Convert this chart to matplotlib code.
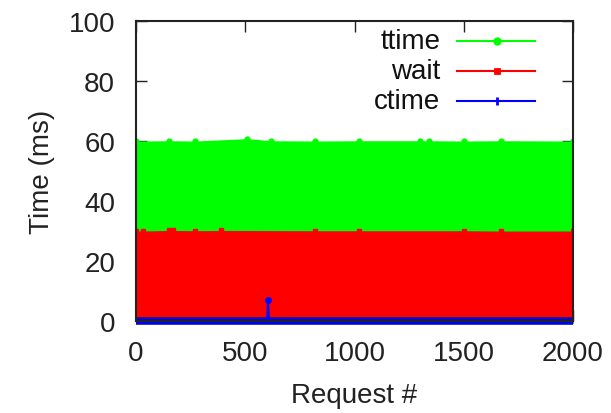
import matplotlib
matplotlib.use("Agg")
import matplotlib.pyplot as plt
from matplotlib.lines import Line2D

plt.rcParams['font.family'] = ['Liberation Sans', 'DejaVu Sans']

# Per-request response times (ms): sampled requests along the run
ttime_req = [0, 150, 270, 510, 620, 820, 1020, 1300, 1340, 1500, 1670, 2000]
ttime_val = [60, 60.1, 60, 60.8, 60.1, 60, 60.1, 60.1, 60.1, 60, 60.1, 60]

wait_req = [0, 30, 150, 170, 270, 390, 820, 1020, 1500, 1670, 2000]
wait_val = [30, 30, 30.2, 30.2, 30.1, 30.2, 30.1, 30.1, 30.1, 30, 30]

ctime_req = [0, 600, 604, 608, 1020, 2000]
ctime_val = [0.2, 0.2, 7, 0.2, 0.3, 0.2]

xticks = [0, 500, 1000, 1500, 2000]
yticks = [0, 20, 40, 60, 80, 100]

GREEN = "#00ff00"
RED = "#ff0000"
BLUE = "#0000ff"

fig = plt.figure(figsize=(6.11, 4.14), dpi=100)
ax = fig.add_axes([0.2226, 0.2222, 0.9378 - 0.2226, 0.9469 - 0.2222])
ax.set_axisbelow(True)

# ttime: dense oscillation fills the area under the curve
ax.fill_between(ttime_req, 0, ttime_val, color=GREEN, lw=0, zorder=2)
ax.plot(ttime_req, ttime_val, color=GREEN, lw=1.5, ls='none', marker='o', ms=3.5, zorder=2)

ax.fill_between(wait_req, 0, wait_val, color=RED, lw=0, zorder=3)
ax.plot(wait_req, wait_val, color=RED, lw=1.5, ls='none', marker='s', ms=2.5, zorder=3)

# ctime: near-zero band with a single spike
ax.plot([ctime_req[0], ctime_req[-1]], [0, 0], color='#1010a0', lw=5.5, zorder=4,
        solid_capstyle='butt', clip_on=False)
ax.plot([ctime_req[0], ctime_req[-1]], [0, 0], color=BLUE, lw=3.5, zorder=4,
        solid_capstyle='butt', clip_on=False)
ax.plot(ctime_req, ctime_val, color=BLUE, lw=1.5, zorder=4)
ax.plot([ctime_req[2]], [ctime_val[2]], color=BLUE, marker='o', ms=4, zorder=4)

ax.set_xlim(0, 2000)
ax.set_ylim(0, 100)
ax.set_xticks(xticks)
ax.set_yticks(yticks)
ax.tick_params(direction='in', length=8, width=1, labelsize=20,
               top=True, right=True, colors='#222222')
ax.tick_params(axis='x', pad=14)
ax.tick_params(axis='y', pad=15)
for s in ax.spines.values():
    s.set_linewidth(1.5)
    s.set_color('#222222')
    s.set_zorder(5)

ax.set_xlabel("Request #", fontsize=20, labelpad=11, color='#222222')
ax.set_ylabel("Time (ms)", fontsize=20, labelpad=10, color='#222222')

# Key in upper right
entries = [("ttime", GREEN, 'o', 4), ("wait", RED, 's', 3), ("ctime", BLUE, '|', 6)]
for i, (name, col, mk, ms) in enumerate(entries):
    y = 0.933 - i * 0.1
    ax.text(0.696, y, name, transform=ax.transAxes, ha='right', va='center',
            fontsize=20, color='#111111', zorder=6)
    ax.add_line(Line2D([0.735, 0.913], [y, y], transform=ax.transAxes,
                       color=col, lw=1.5, zorder=6))
    ax.add_line(Line2D([0.826], [y], transform=ax.transAxes, color=col,
                       marker=mk, ms=ms, mew=2, zorder=6))

fig.savefig("out.png", dpi=100)
